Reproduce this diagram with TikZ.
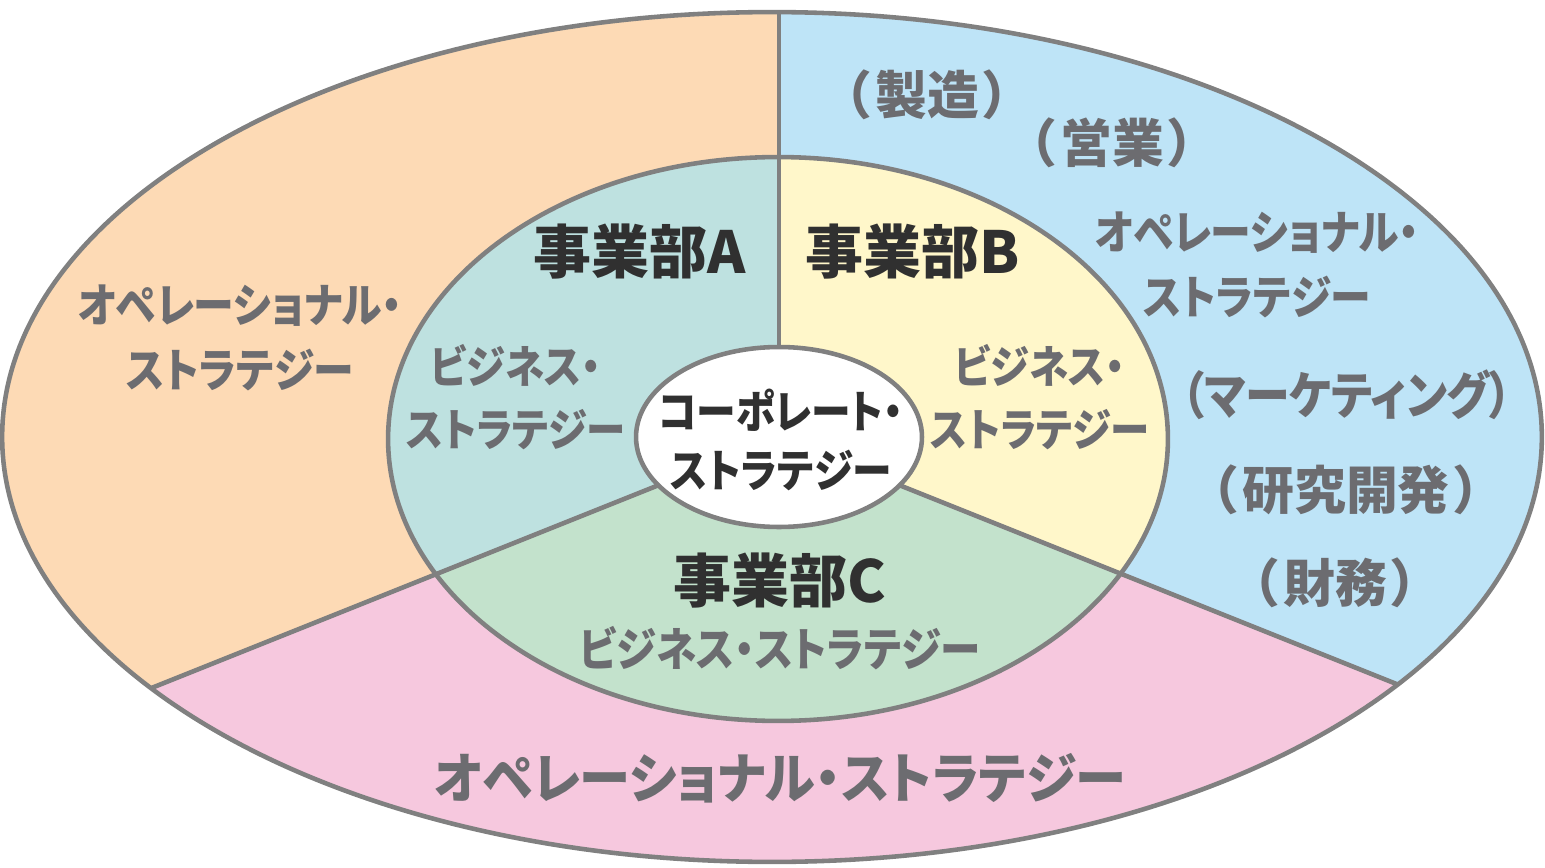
\documentclass[tikz,border=0pt]{standalone}
\usepackage{fontspec}
\setmainfont{Noto Sans CJK JP}
\newfontfamily\jpk{Noto Sans CJK JP}[RawFeature=+palt, FakeStretch=0.88]
\newfontfamily\jpkw{Noto Sans CJK JP}[RawFeature=+palt, FakeStretch=0.94]
\definecolor{orng}{RGB}{253,218,181}
\definecolor{blu}{RGB}{190,228,247}
\definecolor{pnk}{RGB}{246,200,222}
\definecolor{teal}{RGB}{190,225,224}
\definecolor{yel}{RGB}{255,247,202}
\definecolor{grn}{RGB}{195,226,204}
\definecolor{strk}{RGB}{128,128,128}
\definecolor{txtg}{RGB}{108,108,112}
\definecolor{txtd}{RGB}{48,48,48}
\tikzset{
  edge/.style={draw=strk, line width=2.6pt},
  gtxt/.style={text=txtg, align=center, inner sep=0pt, font=\jpk\bfseries\fontsize{25.5}{35.7}\selectfont},
  optxt/.style={text=txtg, align=center, inner sep=0pt, font=\jpk\bfseries\fontsize{26.4}{36.6}\selectfont},
  ktxt/.style={text=txtg, inner sep=0pt, font=\bfseries\fontsize{29.5}{34}\selectfont},
  divtxt/.style={text=txtd, inner sep=0pt, font=\bfseries\fontsize{33}{38}\selectfont},
  corptxt/.style={text=txtd, align=center, inner sep=0pt, font=\jpk\bfseries\fontsize{25.7}{34}\selectfont},
}
\begin{document}
\begin{tikzpicture}[x=0.02cm,y=-0.02cm]
\useasboundingbox (0,0) rectangle (1545,868);
% outer regions
\fill[orng] (772,437) ellipse [x radius=15.4cm, y radius=8.5cm];
\begin{scope}
  \clip (772,437) ellipse [x radius=15.4cm, y radius=8.5cm];
  \fill[blu] (779,437) -- (779,-100) -- (1700,-100) -- (1700,805.4) -- cycle;
  \fill[pnk] (779,437) -- (-100,788.6) -- (-100,1000) -- (1700,1000) -- (1700,805.4) -- cycle;
\end{scope}
% middle regions
\fill[teal] (778,439) ellipse [x radius=7.8cm, y radius=5.64cm];
\begin{scope}
  \clip (778,439) ellipse [x radius=7.8cm, y radius=5.64cm];
  \fill[yel] (779,437) -- (779,-100) -- (1700,-100) -- (1700,805.4) -- cycle;
  \fill[grn] (779,437) -- (-100,788.6) -- (-100,1000) -- (1700,1000) -- (1700,805.4) -- cycle;
\end{scope}
% dividers
\begin{scope}
  \clip (772,437) ellipse [x radius=15.4cm, y radius=8.5cm];
  \coordinate (c) at (779,437);
  \coordinate (top) at (779,-100);
  \coordinate (lft) at (-100,788.6);
  \coordinate (rgt) at (1700,805.4);
  \draw[edge] (c) -- (top);
  \draw[edge] (c) -- (lft);
  \draw[edge] (c) -- (rgt);
\end{scope}
\draw[edge] (778,439) ellipse [x radius=7.8cm, y radius=5.64cm];
\draw[edge, fill=white] (779,437) ellipse [x radius=2.86cm, y radius=1.8cm];
\draw[edge] (772,437) ellipse [x radius=15.4cm, y radius=8.5cm];
% texts
\node[corptxt] (corp) at (781,440) {コーポレート・\\ストラテジー};
\node[divtxt] (divA) at (640,252) {事業部A};
\node[divtxt] (divB) at (913,252) {事業部B};
\node[divtxt] (divC) at (780,581) {事業部C};
\node[gtxt] (bsA) at (516,397) {ビジネス・\\ストラテジー};
\node[gtxt] (bsB) at (1040,397) {ビジネス・\\ストラテジー};
\node[gtxt, font=\jpk\bfseries\fontsize{26.2}{35}\selectfont] (bsC) at (780,648) {ビジネス・ストラテジー};
\node[optxt] (opL) at (240,338) {オペレーショナル・\\ストラテジー};
\node[optxt] (opR) at (1257,265) {オペレーショナル・\\ストラテジー};
\node[optxt, font=\jpkw\bfseries\fontsize{31}{36}\selectfont] (opB) at (780,778) {オペレーショナル・ストラテジー};
\node[ktxt] (mfg) at (927,95) {（\kern0.05em 製造\kern0.05em ）};
\node[ktxt] (sales) at (1112,143) {（\kern0.05em 営業\kern0.05em ）};
\node[optxt, font=\jpk\bfseries\fontsize{29}{34}\selectfont] (mkt) at (1347,395) {（マーケティング）};
\node[ktxt] (rnd) at (1346,490) {（\kern0.05em 研究開発\kern0.05em ）};
\node[ktxt] (fin) at (1335,583) {（\kern0.05em 財務\kern0.05em ）};
\end{tikzpicture}
\end{document}
